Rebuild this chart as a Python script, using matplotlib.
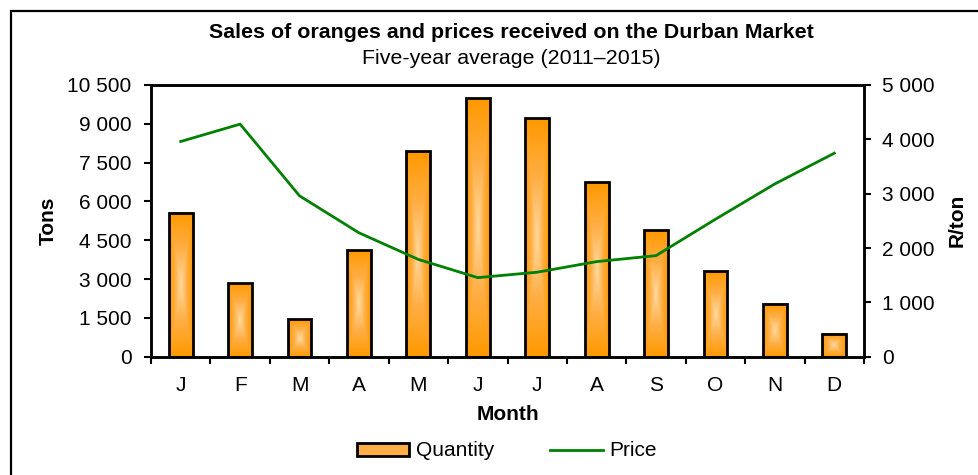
import numpy as np
import matplotlib
matplotlib.use("Agg")
import matplotlib.pyplot as plt
from matplotlib.colors import LinearSegmentedColormap
from matplotlib.patches import Rectangle, Patch
from matplotlib.lines import Line2D
from matplotlib.ticker import FixedLocator, NullFormatter

plt.rcParams['font.family'] = ['Liberation Sans', 'DejaVu Sans']

months = ["J", "F", "M", "A", "M", "J", "J", "A", "S", "O", "N", "D"]
quantity = [5570, 2830, 1460, 4130, 7940, 10000, 9210, 6750, 4890, 3320, 2050, 890]
price = [3960, 4280, 2960, 2280, 1790, 1455, 1555, 1750, 1860, 2530, 3180, 3745]

left_ticks = [0, 1500, 3000, 4500, 6000, 7500, 9000, 10500]
left_labels = ["0", "1 500", "3 000", "4 500", "6 000", "7 500", "9 000", "10 500"]
right_ticks = [0, 1000, 2000, 3000, 4000, 5000]
right_labels = ["0", "1 000", "2 000", "3 000", "4 000", "5 000"]

FS = 15

fig = plt.figure(figsize=(9.79, 4.75), dpi=100)
# outer frame (left and top visible)
fig.patches.append(Rectangle((11 / 979, -0.2), 1.2, 1 - 11 / 475 + 0.2,
                             transform=fig.transFigure, fill=False,
                             edgecolor='black', linewidth=1.6, zorder=0))

ax = fig.add_axes([151 / 979, 1 - 356.7 / 475, (864 - 151) / 979, (356.7 - 85) / 475])
x = np.arange(len(months))

cmap = LinearSegmentedColormap.from_list("og", ["#FFDA9E", "#FFAE45", "#FF9900"])
bars = ax.bar(x, quantity, width=0.4, facecolor='none', edgecolor='black',
              linewidth=2, zorder=3)
for b in bars:
    x0, y0 = b.get_x(), b.get_y()
    w, h = b.get_width(), b.get_height()
    nx, ny = 40, 200
    gx = np.linspace(-1, 1, nx)
    gy = np.linspace(-1, 1, ny)
    GX, GY = np.meshgrid(gx, gy)
    V = np.maximum(np.abs(GX), np.abs(GY))
    ax.imshow(V, cmap=cmap, vmin=0, vmax=1, extent=(x0, x0 + w, y0, y0 + h),
              aspect='auto', interpolation='bilinear', zorder=2)
ax.set_xlim(-0.5, len(months) - 0.5)
ax.set_ylim(0, 10500)

ax.set_yticks(left_ticks)
ax.set_yticklabels(left_labels, fontsize=FS)
ax.xaxis.set_major_locator(FixedLocator(np.arange(-0.5, len(months), 1.0)))
ax.xaxis.set_major_formatter(NullFormatter())
ax.set_xticks(x, minor=True)
ax.set_xticklabels(months, minor=True, fontsize=FS)
ax.tick_params(axis='x', which='major', direction='out', length=5, width=1.5)
ax.tick_params(axis='x', which='minor', length=0, pad=14)
ax.tick_params(axis='y', direction='out', length=5, width=1.5, pad=9)
for s in ['left', 'bottom', 'top', 'right']:
    ax.spines[s].set_linewidth(1.8)
ax.set_xlabel("Month", fontsize=FS, fontweight='bold', labelpad=7)
ax.set_ylabel("Tons", fontsize=FS, fontweight='bold', labelpad=7)

ax2 = ax.twinx()
ax2.set_ylim(0, 5000)
ax2.plot(x, price, color='#008000', linewidth=2, zorder=4)
ax2.set_yticks(right_ticks)
ax2.set_yticklabels(right_labels, fontsize=FS)
ax2.tick_params(axis='y', direction='out', length=5, width=1.5, pad=8)
for s in ['left', 'bottom', 'top', 'right']:
    ax2.spines[s].set_linewidth(1.8)
ax2.set_ylabel("R/ton", fontsize=FS, fontweight='bold', labelpad=9)

fig.text(511 / 979, 1 - 32 / 475, "Sales of oranges and prices received on the Durban Market",
         ha='center', va='center', fontsize=15.4, fontweight='bold')
fig.text(511 / 979, 1 - 58 / 475, "Five-year average (2011\u20132015)",
         ha='center', va='center', fontsize=15.4)

handles = [Patch(facecolor='#FFAE45', edgecolor='black', linewidth=2, label='Quantity'),
           Line2D([0], [0], color='#008000', linewidth=2, label='Price')]
fig.legend(handles=handles, loc='center', bbox_to_anchor=(507 / 979, 1 - 451 / 475),
           ncol=2, frameon=False, fontsize=FS, handlelength=2.5, handleheight=0.6,
           handletextpad=0.33, columnspacing=2.7)

fig.savefig("out.png", dpi=100)
